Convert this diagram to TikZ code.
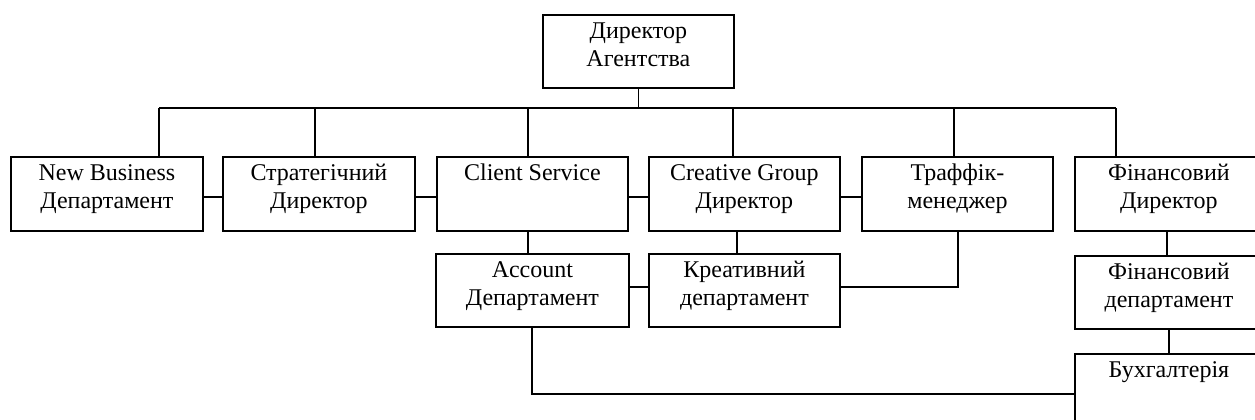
\documentclass[tikz,border=0pt]{standalone}
\usepackage{fontspec}
\setmainfont{Liberation Serif}
\newcommand\orglabel[3]{\parbox[c][#2pt][t]{#1pt}{\centering\vspace*{4pt}\strut #3}}
\tikzset{
  orgbox/.style={draw, line width=1.8pt, inner sep=0pt, anchor=north west,
    font=\fontsize{24}{28}\selectfont},
  link/.style={line width=1.8pt}
}
\begin{document}
\begin{tikzpicture}[x=1pt,y=-1pt]
\useasboundingbox (0,0) rectangle (1255,420);
\clip (0,0) rectangle (1255,420);

% top level
\node[orgbox] (D) at (542,14) {\orglabel{191}{73}{Директор\\Агентства}};

% first row
\node[orgbox] (NB) at (10,156)   {\orglabel{192}{74}{New Business\\Департамент}};
\node[orgbox] (ST) at (222,156)  {\orglabel{192}{74}{Стратегічний\\Директор}};
\node[orgbox] (CS) at (436,156)  {\orglabel{191}{74}{Client Service}};
\node[orgbox] (CG) at (648,156)  {\orglabel{191}{74}{Creative Group\\Директор}};
\node[orgbox] (TR) at (861,156)  {\orglabel{191}{74}{Траффік-\\менеджер}};
\node[orgbox] (FD) at (1074,156) {\orglabel{188}{74}{Фінансовий\\Директор}\hspace{24pt}};

% second row
\node[orgbox] (AC) at (435,253)  {\orglabel{193}{73}{Account\\Департамент}};
\node[orgbox] (KR) at (648,253)  {\orglabel{191}{73}{Креативний\\департамент}};
\node[orgbox] (FN) at (1074,255) {\orglabel{188}{73}{Фінансовий\\департамент}\hspace{24pt}};

% accounting
\node[orgbox] (BU) at (1074,353) {\orglabel{188}{90}{Бухгалтерія}\hspace{24pt}};

% bus under the director
\coordinate (b1) at (159,108);
\coordinate (b2) at (315,108);
\coordinate (b3) at (528,108);
\coordinate (b4) at (733,108);
\coordinate (b5) at (954,108);
\coordinate (b6) at (1116,108);
\draw[link] (b1) -- (b6);
\draw[link] (D.south) -- (D.south |- b1);
\draw[link] (b1) -- (b1 |- NB.north);
\draw[link] (b2) -- (b2 |- ST.north);
\draw[link] (b3) -- (b3 |- CS.north);
\draw[link] (b4) -- (b4 |- CG.north);
\draw[link] (b5) -- (b5 |- TR.north);
\draw[link] (b6) -- (b6 |- FD.north);

% side links in the first row
\coordinate (r1) at (0,197);
\draw[link] (NB.east |- r1) -- (ST.west |- r1);
\draw[link] (ST.east |- r1) -- (CS.west |- r1);
\draw[link] (CS.east |- r1) -- (CG.west |- r1);
\draw[link] (CG.east |- r1) -- (TR.west |- r1);

% vertical links to the second row
\coordinate (s1) at (528,0);
\coordinate (s2) at (737,0);
\coordinate (s3) at (1167,0);
\coordinate (s4) at (1169,0);
\draw[link] (s1 |- CS.south) -- (s1 |- AC.north);
\draw[link] (s2 |- CG.south) -- (s2 |- KR.north);
\draw[link] (s3 |- FD.south) -- (s3 |- FN.north);
\draw[link] (s4 |- FN.south) -- (s4 |- BU.north);

% side links in the second row
\coordinate (r2) at (0,287);
\coordinate (t1) at (958,0);
\draw[link] (AC.east |- r2) -- (KR.west |- r2);
\draw[link] (KR.east |- r2) -| (t1 |- TR.south);

% account department to accounting
\coordinate (a1) at (532,0);
\coordinate (r3) at (0,394);
\draw[link] (a1 |- AC.south) |- (BU.west |- r3);
\end{tikzpicture}
\end{document}
